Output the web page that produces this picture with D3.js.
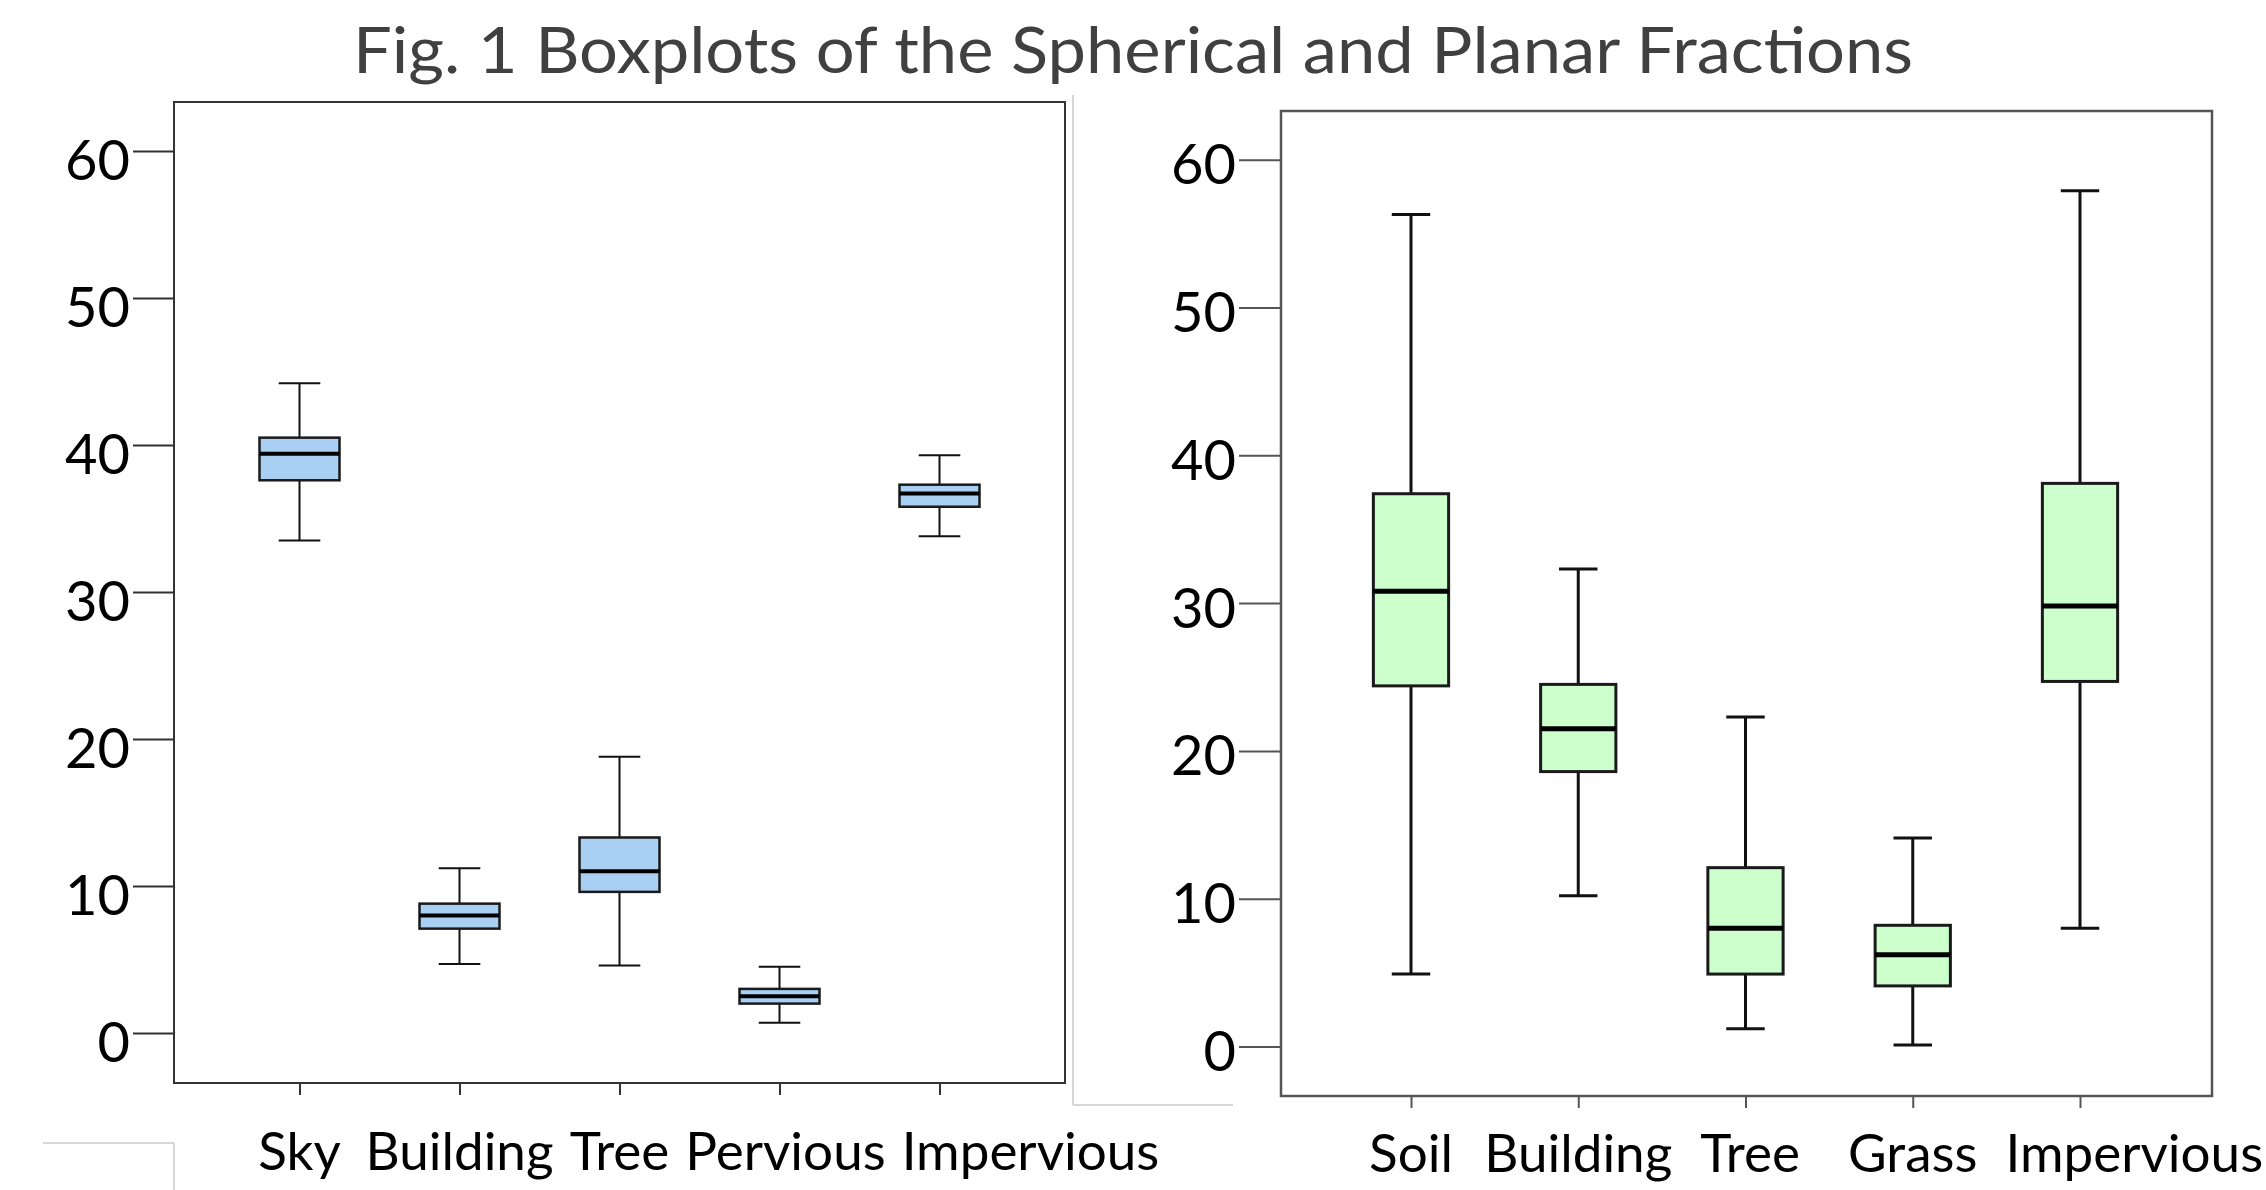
<!DOCTYPE html>
<html>
<head>
<meta charset="utf-8">
<script src="https://cdn.jsdelivr.net/npm/d3@7"></script>
<style>
  body { margin: 0; background: #fff; }
  svg { display: block; }
  text { font-family: Lato, "Open Sans", sans-serif; }
</style>
</head>
<body>
<svg width="2266" height="1190"></svg>
<script>
// left panel: spherical fractions
var leftCats = ["Sky", "Building", "Tree", "Pervious", "Impervious"];
var leftMin  = [33.5, 4.7, 4.6, 0.7, 33.8];
var leftQ1   = [37.6, 7.1, 9.6, 2.0, 35.8];
var leftMed  = [39.4, 8.0, 11.0, 2.5, 36.7];
var leftQ3   = [40.5, 8.8, 13.3, 3.0, 37.3];
var leftMax  = [44.2, 11.2, 18.8, 4.5, 39.3];

// right panel: planar fractions
var rightCats = ["Soil", "Building", "Tree", "Grass", "Impervious"];
var rightMin  = [4.9, 10.2, 1.2, 0.1, 8.0];
var rightQ1   = [24.4, 18.6, 4.9, 4.1, 24.7];
var rightMed  = [30.8, 21.5, 8.0, 6.2, 29.8];
var rightQ3   = [37.4, 24.5, 12.1, 8.2, 38.1];
var rightMax  = [56.3, 32.3, 22.3, 14.1, 57.9];

var yTicks = [0, 10, 20, 30, 40, 50, 60];
var title = "Fig. 1 Boxplots of the Spherical and Planar Fractions";

var svg = d3.select("svg");

svg.append("text")
    .attr("x", 353).attr("y", 73)
    .attr("textLength", 1560).attr("lengthAdjust", "spacingAndGlyphs")
    .style("font-size", "64px").style("fill", "#404040")
    .text(title);

// faint edges left over from pasting the two pictures together
var seams = [[43, 1143, 174, 1143], [174, 1143, 174, 1190], [1073, 95, 1073, 1105], [1073, 1105, 1233, 1105]];
svg.selectAll("line.seam").data(seams).enter().append("line")
    .attr("class", "seam")
    .attr("x1", function(d) { return d[0]; }).attr("y1", function(d) { return d[1]; })
    .attr("x2", function(d) { return d[2]; }).attr("y2", function(d) { return d[3]; })
    .style("stroke", "#c9c9c9").style("stroke-width", 1.5);

function drawPanel(opt) {
  var data = opt.cats.map(function(c, i) {
    return { name: c, min: opt.min[i], q1: opt.q1[i], med: opt.med[i], q3: opt.q3[i], max: opt.max[i] };
  });

  var y = d3.scaleLinear().domain([0, 60]).range([opt.y0, opt.y60]);
  var x = d3.scalePoint().domain(opt.cats).range([opt.xFirst, opt.xLast]);
  var step = x.step();
  var boxW = step * opt.boxFrac, capW = step * opt.capFrac;

  var g = svg.append("g");

  g.append("rect")
      .attr("x", opt.left).attr("y", opt.top)
      .attr("width", opt.right - opt.left).attr("height", opt.bottom - opt.top)
      .style("fill", "none").style("stroke", opt.frameColor).style("stroke-width", opt.frameW);

  var yAxis = g.append("g")
      .attr("transform", "translate(" + opt.left + ",0)")
      .call(d3.axisLeft(y).tickValues(yTicks).tickSize(opt.tickLen).tickPadding(3));
  yAxis.select(".domain").remove();
  yAxis.selectAll("line").style("stroke", opt.frameColor).style("stroke-width", 2);
  yAxis.selectAll("text").style("font-size", "56px").style("fill", "#000")
      .attr("dy", opt.tickDy).attr("font-family", null);

  var xAxis = g.append("g")
      .attr("transform", "translate(0," + opt.bottom + ")")
      .call(d3.axisBottom(x).tickSize(12).tickPadding(0));
  xAxis.select(".domain").remove();
  xAxis.selectAll("line").style("stroke", opt.frameColor).style("stroke-width", 2);
  xAxis.selectAll("text").remove();

  // category labels, centred under ticks but pushed right when they would collide
  var labels = g.selectAll("text.cat").data(data).enter().append("text")
      .attr("class", "cat")
      .attr("y", opt.labelY)
      .style("font-size", "53px").style("fill", "#000")
      .text(function(d) { return d.name; });
  var prevRight = -Infinity;
  labels.each(function(d) {
    var w = this.getComputedTextLength();
    var left = Math.max(x(d.name) - w / 2, prevRight + opt.labelGap);
    d3.select(this).attr("x", left);
    prevRight = left + w;
  });

  var box = g.selectAll("g.box").data(data).enter().append("g").attr("class", "box");

  box.append("line")
      .attr("x1", function(d) { return x(d.name); }).attr("x2", function(d) { return x(d.name); })
      .attr("y1", function(d) { return y(d.max); }).attr("y2", function(d) { return y(d.min); })
      .style("stroke", "#111").style("stroke-width", opt.whiskW);

  box.selectAll("line.cap")
      .data(function(d) { return [d.min, d.max].map(function(v) { return { name: d.name, v: v }; }); })
      .enter().append("line").attr("class", "cap")
      .attr("x1", function(d) { return x(d.name) - capW / 2; })
      .attr("x2", function(d) { return x(d.name) + capW / 2; })
      .attr("y1", function(d) { return y(d.v); }).attr("y2", function(d) { return y(d.v); })
      .style("stroke", "#111").style("stroke-width", opt.whiskW);

  box.append("rect")
      .attr("x", function(d) { return x(d.name) - boxW / 2; })
      .attr("y", function(d) { return y(d.q3); })
      .attr("width", boxW)
      .attr("height", function(d) { return y(d.q1) - y(d.q3); })
      .style("fill", opt.fill).style("stroke", "#1a1a1a").style("stroke-width", opt.boxStroke);

  box.append("line")
      .attr("x1", function(d) { return x(d.name) - boxW / 2; })
      .attr("x2", function(d) { return x(d.name) + boxW / 2; })
      .attr("y1", function(d) { return y(d.med); }).attr("y2", function(d) { return y(d.med); })
      .style("stroke", "#000").style("stroke-width", opt.medW);
}

drawPanel({
  cats: leftCats, min: leftMin, q1: leftQ1, med: leftMed, q3: leftQ3, max: leftMax,
  left: 174, right: 1065, top: 102, bottom: 1083,
  y0: 1033, y60: 151, xFirst: 299.5, xLast: 939.5,
  boxFrac: 0.5, capFrac: 0.26, tickLen: 41, tickDy: "0.5em",
  fill: "#a9d0f3", frameColor: "#333", frameW: 2,
  whiskW: 2, boxStroke: 2.5, medW: 4, labelY: 1170, labelGap: 16
});

drawPanel({
  cats: rightCats, min: rightMin, q1: rightQ1, med: rightMed, q3: rightQ3, max: rightMax,
  left: 1281, right: 2212, top: 111, bottom: 1096,
  y0: 1046.5, y60: 159.7, xFirst: 1411, xLast: 2080,
  boxFrac: 0.45, capFrac: 0.23, tickLen: 42, tickDy: "0.43em",
  fill: "#ccffcc", frameColor: "#555", frameW: 2.5,
  whiskW: 3, boxStroke: 3, medW: 5, labelY: 1172, labelGap: 28
});
</script>
</body>
</html>
